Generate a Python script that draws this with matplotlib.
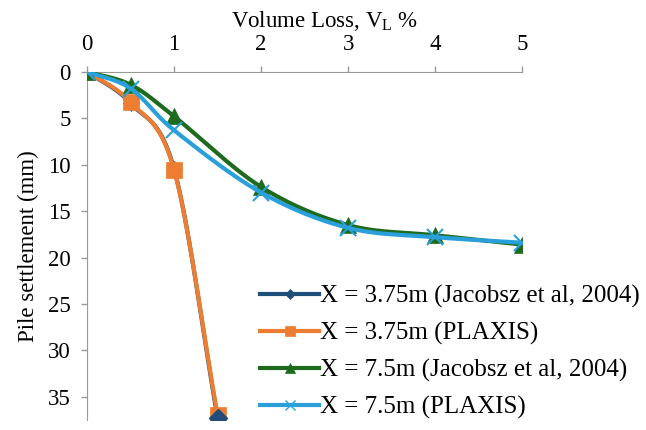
import numpy as np
import matplotlib.pyplot as plt

# Datos
vl_375 = [0, 0.5, 1, 1.5]
jac_375 = [0, 3.4, 10.5, 37.3]
plx_375 = [0, 3.3, 10.6, 37.0]

vl_75 = [0, 0.5, 1, 2, 3, 4, 5]
jac_75 = [0, 1.4, 4.8, 12.4, 16.5, 17.6, 18.6]
plx_75 = [0, 1.8, 6.3, 13.0, 16.8, 17.8, 18.4]

etiquetas = ["X = 3.75m (Jacobsz et al, 2004)", "X = 3.75m (PLAXIS)",
             "X = 7.5m (Jacobsz et al, 2004)", "X = 7.5m (PLAXIS)"]


# curva suavizada estilo Excel (Catmull-Rom) solo para dibujar la linea
def suave(x, y, n=30):
    x = np.asarray(x, float)
    y = np.asarray(y, float)
    px = np.concatenate([[2 * x[0] - x[1]], x, [2 * x[-1] - x[-2]]])
    py = np.concatenate([[2 * y[0] - y[1]], y, [2 * y[-1] - y[-2]]])
    xs, ys = [], []
    t = np.linspace(0, 1, n)
    for i in range(1, len(px) - 2):
        for p, out in ((px, xs), (py, ys)):
            p0, p1, p2, p3 = p[i - 1], p[i], p[i + 1], p[i + 2]
            out.extend(0.5 * (2 * p1 + (-p0 + p2) * t
                              + (2 * p0 - 5 * p1 + 4 * p2 - p3) * t ** 2
                              + (-p0 + 3 * p1 - 3 * p2 + p3) * t ** 3))
    return xs, ys


plt.rcParams['font.family'] = ['Liberation Serif', 'DejaVu Serif']

fig = plt.figure(figsize=(6.46, 4.30), dpi=100)
ax = fig.add_axes([0.135, 0.023, 0.673, 0.81])

series = [
    (vl_375, jac_375, "#1F4E79", "D", 8),
    (vl_375, plx_375, "#ED7D31", "s", 12),
    (vl_75, jac_75, "#1E6B1E", "^", 11),
    (vl_75, plx_75, "#2AA0DA", "x", 12),
]
handles = []
for k in range(4):
    x, y, c, m, ms = series[k]
    xs, ys = suave(x, y)
    ax.plot(xs, ys, color=c, linewidth=3, zorder=2 + k, solid_capstyle="round")
    ax.plot(x, y, linestyle="none", marker=m, markersize=ms, color=c,
            markeredgewidth=1.5 if m == "x" else 0.5, zorder=2 + k)
    h, = ax.plot([], [], color=c, linewidth=3, marker=m,
                 markersize=ms * 0.65, markeredgewidth=1.0 if m == "x" else 0.5)
    handles.append(h)

# diamante final visible encima
ax.plot(vl_375[-1:], jac_375[-1:], linestyle="none", marker="D", markersize=9,
        color="#1F4E79", zorder=10)

ax.set_xlim(0, 5)
ax.set_ylim(37.5, 0)
ax.set_xticks([0, 1, 2, 3, 4, 5])
ax.set_yticks([0, 5, 10, 15, 20, 25, 30, 35])
ax.xaxis.tick_top()
ax.xaxis.set_label_position("top")
ax.set_xlabel("Volume Loss, V$_\\mathregular{L}$ %", fontsize=16.5)
ax.xaxis.set_label_coords(0.547, 1.13)
ax.set_ylabel("Pile settlement (mm)", fontsize=16.5, labelpad=6)
ax.tick_params(axis="both", labelsize=16.5, color="#999999", length=4, width=1)
ax.tick_params(axis="y", pad=8)
ax.tick_params(axis="x", pad=8)
for s in ["right", "bottom"]:
    ax.spines[s].set_visible(False)
for s in ["left", "top"]:
    ax.spines[s].set_color("#999999")

fig.legend(handles, etiquetas, loc="lower right", bbox_to_anchor=(1.008, 0.0),
           frameon=False, fontsize=18, handlelength=2.35, handletextpad=0.05,
           labelspacing=0.55, borderaxespad=0.05)

fig.savefig("out.png", dpi=100)
